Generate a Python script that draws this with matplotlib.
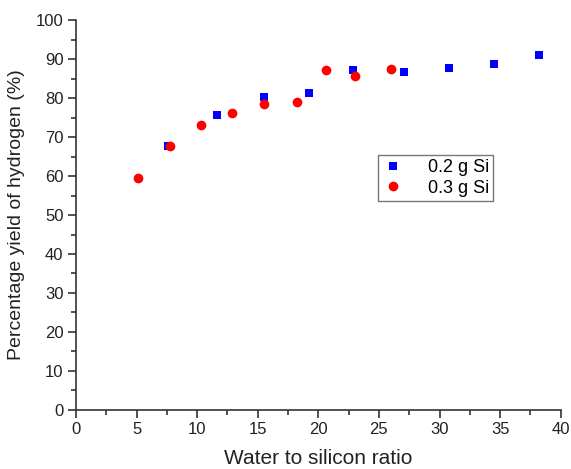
import matplotlib
matplotlib.use("Agg")
import matplotlib.pyplot as plt
from matplotlib.ticker import MultipleLocator

plt.rcParams['font.family'] = ['Liberation Sans', 'DejaVu Sans']

# 0.2 g Si series
x_02 = [7.6, 11.6, 15.5, 19.2, 22.9, 27.1, 30.8, 34.5, 38.2]
y_02 = [67.8, 75.7, 80.3, 81.3, 87.3, 86.8, 87.8, 88.7, 91.0]

# 0.3 g Si series
x_03 = [5.1, 7.8, 10.3, 12.9, 15.5, 18.2, 20.6, 23.0, 26.0]
y_03 = [59.4, 67.8, 73.1, 76.1, 78.5, 78.9, 87.2, 85.6, 87.5]

labels = ["0.2 g Si", "0.3 g Si"]

fig = plt.figure(figsize=(5.71, 4.69), dpi=100)
ax = fig.add_axes([0.133, 0.126, 0.849, 0.831])

ax.plot(x_02, y_02, linestyle='none', marker='s', markersize=6, color='#0000ff',
        markeredgewidth=0, label=labels[0])
ax.plot(x_03, y_03, linestyle='none', marker='o', markersize=7, color='#ff0000',
        markeredgewidth=0, label=labels[1])

ax.set_xlim(0, 40)
ax.set_ylim(0, 100)
ax.xaxis.set_major_locator(MultipleLocator(5))
ax.xaxis.set_minor_locator(MultipleLocator(2.5))
ax.yaxis.set_major_locator(MultipleLocator(10))
ax.yaxis.set_minor_locator(MultipleLocator(5))

for side in ('top', 'right'):
    ax.spines[side].set_visible(False)
for side in ('left', 'bottom'):
    ax.spines[side].set_linewidth(1.2)
    ax.spines[side].set_color('#333333')

ax.tick_params(which='major', direction='out', length=6, width=1.2, color='#333333',
               labelsize=12, labelcolor='#222222', pad=3)
ax.tick_params(which='minor', direction='out', length=3.5, width=1.2, color='#333333')

ax.set_xlabel("Water to silicon ratio", fontsize=15, color='#222222', labelpad=8)
ax.set_ylabel("Percentage yield of hydrogen (%)", fontsize=14, color='#222222', labelpad=8)

leg = ax.legend(loc='upper left', bbox_to_anchor=(0.623, 0.655), fontsize=13,
                frameon=True, fancybox=False, handletextpad=1.3, borderpad=0.25,
                handlelength=1.2, borderaxespad=0, labelspacing=0.2)
leg.get_frame().set_edgecolor('#555555')
leg.get_frame().set_linewidth(1.0)

fig.savefig("out.png", dpi=100)
